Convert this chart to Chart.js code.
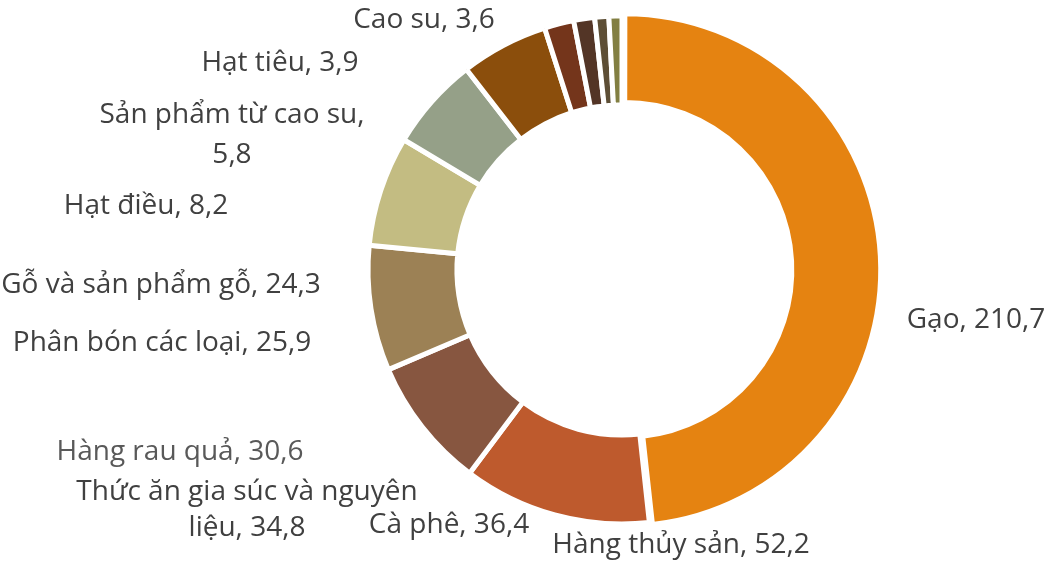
<!DOCTYPE html>
<html>
<head>
<meta charset="utf-8">
<script src="https://cdn.jsdelivr.net/npm/chart.js@4"></script>
<style>
  html, body { margin: 0; padding: 0; background: #ffffff; }
  #wrap { width: 1048px; height: 562px; position: relative; }
</style>
</head>
<body>
<div id="wrap"><canvas id="c" width="1048" height="562"></canvas></div>
<script>
// ---- data ----
const categories = [
  "Gạo", "Hàng thủy sản", "Cà phê", "Thức ăn gia súc và nguyên liệu",
  "Hàng rau quả", "Phân bón các loại", "Gỗ và sản phẩm gỗ", "Hạt điều",
  "Sản phẩm từ cao su", "Hạt tiêu", "Cao su"
];
const values = [210.7, 52.2, 36.4, 34.8, 30.6, 25.9, 24.3, 8.2, 5.8, 3.9, 3.6];
const valueLabels = ["210,7", "52,2", "36,4", "34,8", "30,6", "25,9", "24,3", "8,2", "5,8", "3,9", "3,6"];

// ---- styles / layout ----
const sliceColors = [
  "#E58311", "#BE5A2D", "#875640", "#9C8155", "#C3BC82", "#95A088",
  "#8B4E0C", "#74351B", "#533526", "#5D4E35", "#827F42"
];
const sliceOffsets = [10, 0, 0, 0, 0, 0, 0, 0, 0, 0, 0];
// label text lines and anchor positions (center x, middle y of first line)
const labelLines = [
  ["Gạo, " + valueLabels[0]],
  ["Hàng thủy sản, " + valueLabels[1]],
  ["Cà phê, " + valueLabels[2]],
  ["Thức ăn gia súc và nguyên", "liệu, " + valueLabels[3]],
  ["Hàng rau quả, " + valueLabels[4]],
  ["Phân bón các loại, " + valueLabels[5]],
  ["Gỗ và sản phẩm gỗ, " + valueLabels[6]],
  ["Hạt điều, " + valueLabels[7]],
  ["Sản phẩm từ cao su,", valueLabels[8]],
  ["Hạt tiêu, " + valueLabels[9]],
  ["Cao su, " + valueLabels[10]]
];
const labelPos = [
  [976, 320], [681, 545], [449, 525], [247, 492], [180, 452], [162, 343],
  [161, 285], [146, 206], [232, 115], [280, 63], [424, 20]
];
const labelLineGap = [0, 0, 0, 36, 0, 0, 0, 0, 40, 0, 0];
const labelColors = ["#404040", "#404040", "#404040", "#404040", "#595959", "#404040",
  "#404040", "#404040", "#404040", "#404040", "#404040"];

const labelPlugin = {
  id: "sliceLabels",
  afterDatasetsDraw(chart) {
    const ctx = chart.ctx;
    ctx.save();
    ctx.font = "28px 'Open Sans'";
    ctx.textAlign = "center";
    ctx.textBaseline = "middle";
    labelLines.forEach((lines, i) => {
      ctx.fillStyle = labelColors[i];
      lines.forEach((t, j) => {
        ctx.fillText(t, labelPos[i][0], labelPos[i][1] + j * labelLineGap[i]);
      });
    });
    ctx.restore();
  }
};

new Chart(document.getElementById("c"), {
  type: "doughnut",
  data: {
    labels: categories,
    datasets: [{
      data: values,
      backgroundColor: sliceColors,
      borderColor: "#ffffff",
      borderWidth: 5,
      offset: sliceOffsets
    }]
  },
  options: {
    responsive: false,
    animation: false,
    radius: 254,
    cutout: "65%",
    layout: { padding: { left: 196, right: 0, top: 0, bottom: 22 } },
    plugins: {
      legend: { display: false },
      tooltip: { enabled: false }
    }
  },
  plugins: [labelPlugin]
});
</script>
</body>
</html>
